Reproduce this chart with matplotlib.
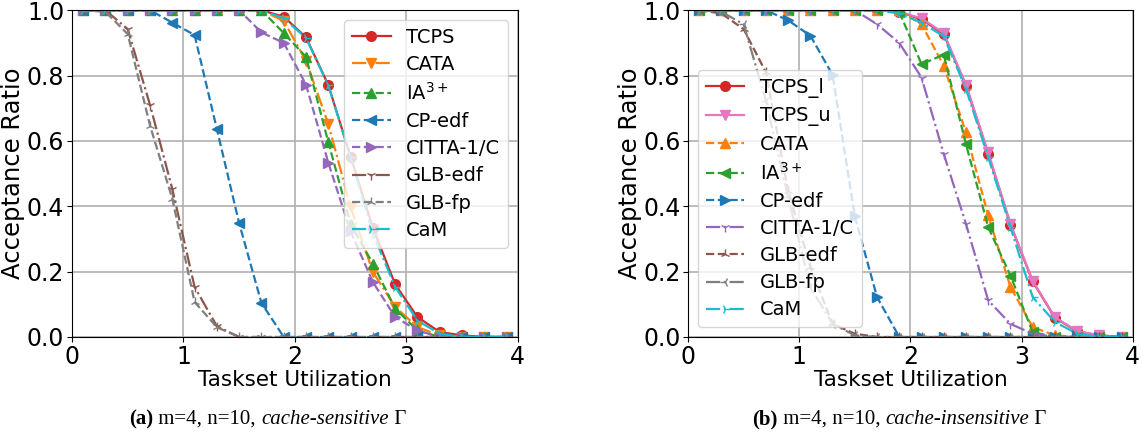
import matplotlib.pyplot as plt

# x positions: taskset utilization
util = [0.1, 0.3, 0.5, 0.7, 0.9, 1.1, 1.3, 1.5, 1.7, 1.9,
        2.1, 2.3, 2.5, 2.7, 2.9, 3.1, 3.3, 3.5, 3.7, 3.9]

# (a) cache-sensitive
a_tcps = [1, 1, 1, 1, 1, 1, 1, 1, 1, 0.98, 0.917, 0.771, 0.552, 0.334, 0.161, 0.061, 0.015, 0.005, 0, 0]
a_cata = [1, 1, 1, 1, 1, 1, 1, 1, 1, 0.967, 0.845, 0.652, 0.397, 0.199, 0.092, 0.03, 0.005, 0, 0, 0]
a_ia3 = [1, 1, 1, 1, 1, 1, 1, 1, 1, 0.93, 0.857, 0.596, 0.346, 0.224, 0.087, 0.02, 0, 0, 0, 0]
a_cpedf = [1, 1, 1, 1, 0.962, 0.924, 0.636, 0.348, 0.104, 0, 0, 0, 0, 0, 0, 0, 0, 0, 0, 0]
a_citta = [1, 1, 1, 1, 1, 1, 1, 1, 0.932, 0.90, 0.772, 0.533, 0.323, 0.168, 0.061, 0.02, 0, 0, 0, 0]
a_glbedf = [1, 1, 0.942, 0.71, 0.453, 0.153, 0.033, 0, 0, 0, 0, 0, 0, 0, 0, 0, 0, 0, 0, 0]
a_glbfp = [1, 0.995, 0.927, 0.647, 0.423, 0.107, 0.03, 0, 0, 0, 0, 0, 0, 0, 0, 0, 0, 0, 0, 0]
a_cam = [1, 1, 1, 1, 1, 1, 1, 1, 1, 0.975, 0.915, 0.77, 0.55, 0.316, 0.153, 0.05, 0.01, 0, 0, 0]

# (b) cache-insensitive
b_tcps_l = [1, 1, 1, 1, 1, 1, 1, 1, 1, 0.995, 0.972, 0.927, 0.769, 0.56, 0.344, 0.17, 0.059, 0.017, 0.005, 0]
b_tcps_u = [1, 1, 1, 1, 1, 1, 1, 1, 1, 0.995, 0.975, 0.93, 0.772, 0.565, 0.346, 0.172, 0.06, 0.018, 0.005, 0]
b_cata = [1, 1, 1, 1, 1, 1, 1, 1, 1, 1.0, 0.957, 0.83, 0.626, 0.372, 0.153, 0.03, 0.005, 0, 0, 0]
b_ia3 = [1, 1, 1, 1, 1, 1, 1, 1, 1, 0.995, 0.835, 0.864, 0.59, 0.336, 0.188, 0.015, 0, 0, 0, 0]
b_cpedf = [1, 1, 1, 1, 0.969, 0.922, 0.802, 0.369, 0.122, 0, 0, 0, 0, 0, 0, 0, 0, 0, 0, 0]
b_citta = [1, 1, 1, 1, 1, 1, 1, 1, 0.957, 0.90, 0.794, 0.56, 0.346, 0.112, 0.04, 0.01, 0, 0, 0, 0]
b_glbedf = [1, 0.99, 0.942, 0.81, 0.448, 0.214, 0.04, 0.01, 0, 0, 0, 0, 0, 0, 0, 0, 0, 0, 0, 0]
b_glbfp = [1, 0.995, 0.957, 0.723, 0.428, 0.153, 0.04, 0.005, 0, 0, 0, 0, 0, 0, 0, 0, 0, 0, 0, 0]
b_cam = [1, 1, 1, 1, 1, 1, 1, 1, 1, 0.99, 0.962, 0.92, 0.759, 0.55, 0.336, 0.122, 0.046, 0.01, 0, 0]

series_a = [
    ('TCPS', a_tcps, 'C3', '-', 'o'),
    ('CATA', a_cata, 'C1', '-.', 'v'),
    ('IA$^{3+}$', a_ia3, 'C2', '--', '^'),
    ('CP-edf', a_cpedf, 'C0', '--', '<'),
    ('CITTA-1/C', a_citta, 'C4', '--', '>'),
    ('GLB-edf', a_glbedf, 'C5', '-.', '1'),
    ('GLB-fp', a_glbfp, 'C7', '--', '2'),
    ('CaM', a_cam, 'C9', '-.', '4'),
]
series_b = [
    ('TCPS_l', b_tcps_l, 'C3', '-', 'o'),
    ('TCPS_u', b_tcps_u, 'C6', '-', 'v'),
    ('CATA', b_cata, 'C1', '--', '^'),
    ('IA$^{3+}$', b_ia3, 'C2', '--', '<'),
    ('CP-edf', b_cpedf, 'C0', '--', '>'),
    ('CITTA-1/C', b_citta, 'C4', '-.', '1'),
    ('GLB-edf', b_glbedf, 'C5', '--', '2'),
    ('GLB-fp', b_glbfp, 'C7', '-.', '3'),
    ('CaM', b_cam, 'C9', '-.', '4'),
]

fig = plt.figure(figsize=(11.43, 4.44), dpi=100)
ax1 = fig.add_axes([0.063, 0.241, 0.390, 0.736])
ax2 = fig.add_axes([0.602, 0.241, 0.389, 0.736])


def draw(ax, series, loc):
    for name, vals, c, ls, mk in series:
        ax.plot(util, vals, color=c, linestyle=ls, marker=mk, markersize=7,
                linewidth=1.6, label=name)
    ax.set_xlim(0, 4)
    ax.set_ylim(0, 1)
    ax.set_xticks([0, 1, 2, 3, 4])
    ax.set_yticks([0, 0.2, 0.4, 0.6, 0.8, 1.0])
    ax.tick_params(labelsize=17, pad=2)
    ax.grid(True, linewidth=1.2)
    ax.set_xlabel('Taskset Utilization', fontsize=15.5, labelpad=1)
    ax.set_ylabel('Acceptance Ratio', fontsize=17.5, labelpad=1)
    ax.legend(loc=loc, fontsize=14, handlelength=2.0, labelspacing=0.42)


draw(ax1, series_a, 'upper right')
draw(ax2, series_b, 'lower left')

# captions below each panel, built from pieces
renderer = fig.canvas.get_renderer()


def caption(cx, cy, parts):
    texts = []
    for s, w, st in parts:
        t = fig.text(0, cy, s, fontsize=15, family='Liberation Serif',
                     fontweight=w, fontstyle=st, va='baseline')
        texts.append(t)
    widths = [t.get_window_extent(renderer).width / fig.bbox.width for t in texts]
    x = cx - sum(widths) / 2
    for t, w in zip(texts, widths):
        t.set_x(x)
        x += w


caption(0.234, 0.045, [('(a)', 'bold', 'normal'), (' m=4, n=10, ', 'normal', 'normal'),
                       ('cache-sensitive', 'normal', 'italic'), (' \u0393', 'normal', 'normal')])
caption(0.787, 0.045, [('(b)', 'bold', 'normal'), (' m=4, n=10, ', 'normal', 'normal'),
                       ('cache-insensitive', 'normal', 'italic'), (' \u0393', 'normal', 'normal')])

plt.savefig('out.png', dpi=100)
